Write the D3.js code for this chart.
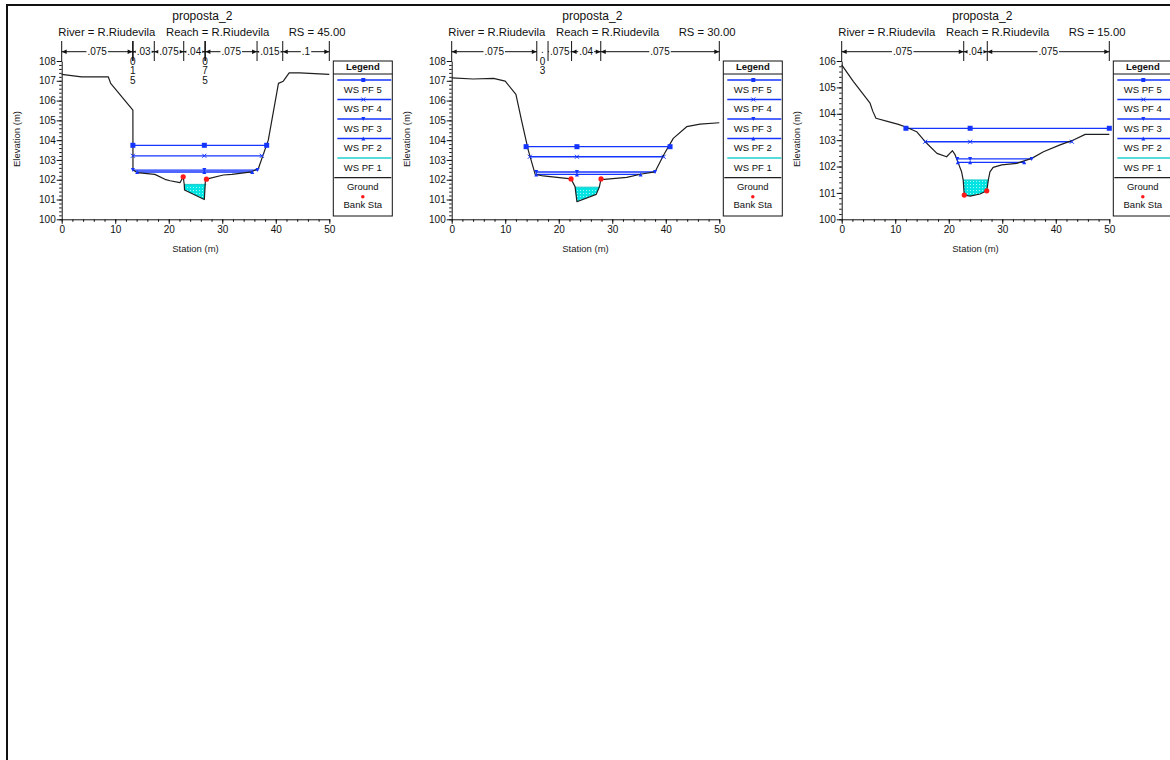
<!DOCTYPE html>
<html><head><meta charset="utf-8">
<script src="https://cdn.jsdelivr.net/npm/d3@7"></script>
<style>
body{margin:0;background:#fff;}
svg{display:block;font-family:"Liberation Sans",Arial,sans-serif;}
</style>
</head><body>
<svg id="chart" width="1170" height="760"></svg>
<script>
// ---------- text ----------
const titleText = "proposta_2";
const riverText = "River = R.Riudevila";
const reachText = "Reach = R.Riudevila";
const rsLabels = ["RS = 45.00", "RS = 30.00", "RS = 15.00"];
const profileNames = ["WS PF 5", "WS PF 4", "WS PF 3", "WS PF 2", "WS PF 1"];
const legendExtra = ["Ground", "Bank Sta"];
const xTicks = [0, 10, 20, 30, 40, 50];
const xLabel = "Station (m)";
const yLabel = "Elevation (m)";

// ---------- RS 45.00 ----------
const station45 = [0, 3.7, 8.7, 9.15, 13.3, 13.32, 14.1, 17.4, 19.3, 20.25, 22.1, 22.7, 22.9, 22.95, 26.65, 26.85, 27.05, 30.2, 31.8, 35.5, 36.75, 38.6, 40.5, 41.4, 42.5, 44.5, 50];
const elev45    = [107.32, 107.2, 107.2, 106.87, 105.52, 102.49, 102.36, 102.27, 102.02, 101.95, 101.85, 102.15, 101.76, 101.48, 101.0, 101.98, 102.03, 102.24, 102.27, 102.4, 102.57, 104.0, 106.87, 106.98, 107.4, 107.4, 107.32];
const bankSta45  = [22.7, 27.05];
const bankElev45 = [102.15, 102.03];
const wsElev45  = [103.74, 103.21, 102.49, 102.39, 101.76];
const wsLeft45  = [13.3, 13.3, 13.3, 14.1, 22.9];
const wsRight45 = [38.3, 37.4, 36.6, 35.6, 27.0];
const wsMid45 = 26.65;
const nBounds45 = [0, 13.25, 13.35, 17.3, 22.8, 26.75, 26.85, 36.5, 41.3, 50];
const nValues45 = [".075", ".015", ".03", ".075", ".04", ".075", ".075", ".015", ".1"];
const yTicks45 = [100, 101, 102, 103, 104, 105, 106, 107, 108];

// ---------- RS 30.00 ----------
const station30 = [0, 4.0, 7.8, 10, 12.0, 13.1, 14.3, 15.6, 17.1, 22.3, 23.05, 23.4, 27.0, 27.6, 27.9, 28.5, 32.7, 35.5, 38.0, 39.6, 41.4, 43.9, 46.4, 50];
const elev30    = [107.15, 107.09, 107.12, 106.98, 106.31, 104.93, 103.5, 102.27, 102.19, 102.04, 101.65, 100.89, 101.26, 101.65, 102.04, 102.02, 102.12, 102.29, 102.4, 103.25, 104.09, 104.68, 104.81, 104.88];
const bankSta30  = [22.3, 27.9];
const bankElev30 = [102.04, 102.04];
const wsElev30  = [103.67, 103.16, 102.39, 102.27, 101.62];
const wsLeft30  = [13.9, 14.6, 15.8, 15.8, 23.0];
const wsRight30 = [40.8, 39.6, 38.0, 35.3, 27.6];
const wsMid30 = 23.4;
const nBounds30 = [0, 15.9, 18.0, 22.4, 27.85, 50];
const nValues30 = [".075", ".03", ".075", ".04", ".075"];
const yTicks30 = [100, 101, 102, 103, 104, 105, 106, 107, 108];

// ---------- RS 15.00 ----------
const station15 = [0, 2.2, 5.3, 5.8, 6.4, 8.7, 10.6, 12.1, 14.0, 15.6, 17.8, 19.6, 20.2, 20.7, 21.2, 21.8, 22.4, 22.7, 22.9, 24.0, 25.85, 27.1, 27.4, 27.7, 28.3, 29.9, 32.7, 35.5, 37.7, 40.8, 43.0, 45.5, 50];
const elev15    = [105.85, 105.22, 104.4, 104.1, 103.83, 103.7, 103.6, 103.49, 103.32, 102.94, 102.5, 102.37, 102.5, 102.6, 102.44, 102.12, 101.8, 101.49, 100.92, 100.88, 100.96, 101.08, 101.49, 101.8, 101.97, 102.06, 102.12, 102.31, 102.56, 102.82, 102.98, 103.22, 103.22];
const bankSta15  = [22.9, 27.1];
const bankElev15 = [100.92, 101.08];
const wsElev15  = [103.45, 102.94, 102.29, 102.16, 101.49];
const wsLeft15  = [12.0, 15.6, 21.6, 21.7, 22.7];
const wsRight15 = [50.0, 43.0, 35.5, 34.1, 27.4];
const wsMid15 = 24.0;
const nBounds15 = [0, 22.8, 27.2, 50];
const nValues15 = [".075", ".04", ".075"];
const yTicks15 = [100, 101, 102, 103, 104, 105, 106];

// ---------- styles ----------
const blue = "#1434ff";
const cyan = "#1fcfcf";
const groundColor = "#1e1e1e";
const markerTypes = ["square", "x", "tdown", "tup", null];

const panels = [
  {ox: 0,   rs: rsLabels[0], st: station45, el: elev45, bs: bankSta45, be: bankElev45, wsE: wsElev45, wsL: wsLeft45, wsR: wsRight45, mid: wsMid45, nb: nBounds45, nv: nValues45, yt: yTicks45},
  {ox: 390, rs: rsLabels[1], st: station30, el: elev30, bs: bankSta30, be: bankElev30, wsE: wsElev30, wsL: wsLeft30, wsR: wsRight30, mid: wsMid30, nb: nBounds30, nv: nValues30, yt: yTicks30},
  {ox: 780, rs: rsLabels[2], st: station15, el: elev15, bs: bankSta15, be: bankElev15, wsE: wsElev15, wsL: wsLeft15, wsR: wsRight15, mid: wsMid15, nb: nBounds15, nv: nValues15, yt: yTicks15}
];

const svg = d3.select("#chart");

// pattern for PF1 fill
const defs = svg.append("defs");
const pat = defs.append("pattern").attr("id", "dots").attr("patternUnits", "userSpaceOnUse")
  .attr("width", 3).attr("height", 3);
pat.append("rect").attr("width", 3).attr("height", 3).attr("fill", "#00e4e4");
pat.append("rect").attr("x", 1).attr("y", 1).attr("width", 1).attr("height", 1).attr("fill", "#9ff6f6");

// page border
svg.append("line").attr("x1", 6).attr("x2", 1170).attr("y1", 5).attr("y2", 5).attr("stroke", "#111").attr("stroke-width", 2);
svg.append("line").attr("x1", 7).attr("x2", 7).attr("y1", 4).attr("y2", 760).attr("stroke", "#111").attr("stroke-width", 2);

function drawMarker(g, type, cx, cy, s, color) {
  if (!type) return;
  if (type === "square") {
    g.append("rect").attr("x", cx - s / 2).attr("y", cy - s / 2).attr("width", s).attr("height", s).attr("fill", color);
  } else if (type === "x") {
    const h = s / 2;
    g.append("path").attr("d", `M${cx-h},${cy-h}L${cx+h},${cy+h}M${cx-h},${cy+h}L${cx+h},${cy-h}`)
      .attr("stroke", color).attr("stroke-width", 1).attr("fill", "none");
  } else if (type === "tdown") {
    const h = s / 2;
    g.append("path").attr("d", `M${cx-h},${cy-h}L${cx+h},${cy-h}L${cx},${cy+h}Z`).attr("fill", color);
  } else if (type === "tup") {
    const h = s / 2;
    g.append("path").attr("d", `M${cx-h},${cy+h}L${cx+h},${cy+h}L${cx},${cy-h}Z`).attr("fill", color);
  }
}

function groundAt(st, el, s) {
  for (let i = 0; i < st.length - 1; i++) {
    if (s >= st[i] && s <= st[i + 1]) {
      const t = st[i + 1] === st[i] ? 0 : (s - st[i]) / (st[i + 1] - st[i]);
      return el[i] + t * (el[i + 1] - el[i]);
    }
  }
  return el[el.length - 1];
}

panels.forEach(p => {
  const g = svg.append("g");
  const x = d3.scaleLinear().domain([0, 50]).range([p.ox + 61.7, p.ox + 329.3]);
  const yMin = d3.min(p.yt), yMax = d3.max(p.yt);
  const y = d3.scaleLinear().domain([yMin, yMax]).range([219.3, 61]);

  // titles
  g.append("text").attr("x", p.ox + 202.3).attr("y", 19.8).attr("text-anchor", "middle")
    .attr("font-size", 12).attr("fill", "#111").text(titleText);
  g.append("text").attr("x", p.ox + 58.3).attr("y", 35.5).attr("font-size", 11.3).attr("fill", "#111").text(riverText);
  g.append("text").attr("x", p.ox + 166).attr("y", 35.5).attr("font-size", 11.3).attr("fill", "#111").text(reachText);
  g.append("text").attr("x", p.ox + 288.7).attr("y", 35.5).attr("font-size", 11.3).attr("fill", "#111").text(p.rs);

  // Manning's n bar
  const nY = 51.7;
  const ng = g.append("g");
  const bounds = p.nb;
  // vertical separator lines
  const uniqB = bounds;
  uniqB.forEach(b => {
    ng.append("line").attr("x1", x(b)).attr("x2", x(b)).attr("y1", 41).attr("y2", 61)
      .attr("stroke", "#111").attr("stroke-width", 1);
  });
  for (let i = 0; i < p.nv.length; i++) {
    const a = x(bounds[i]), b = x(bounds[i + 1]);
    const w = b - a;
    const cx = (a + b) / 2;
    if (w < 12) {
      // vertical stacked label
      const chars = p.nv[i].split("");
      const ys = [52.5, 64.5, 74, 83.5];
      chars.forEach((c, k) => {
        ng.append("text").attr("x", cx).attr("y", ys[k]).attr("text-anchor", "middle")
          .attr("font-size", 10).attr("fill", "#111").text(c);
      });
      continue;
    }
    ng.append("line").attr("x1", a).attr("x2", b).attr("y1", nY).attr("y2", nY).attr("stroke", "#111").attr("stroke-width", 1);
    ng.append("path").attr("d", `M${a},${nY}L${a+5},${nY-2.3}L${a+5},${nY+2.3}Z`).attr("fill", "#111");
    ng.append("path").attr("d", `M${b},${nY}L${b-5},${nY-2.3}L${b-5},${nY+2.3}Z`).attr("fill", "#111");
    const t = ng.append("text").attr("x", cx).attr("y", nY + 3.5).attr("text-anchor", "middle")
      .attr("font-size", 10).attr("fill", "#111").text(p.nv[i]);
    const tw = t.node().getComputedTextLength();
    ng.insert("rect", () => t.node()).attr("x", cx - tw / 2 - 1).attr("y", nY - 4).attr("width", tw + 2).attr("height", 8).attr("fill", "#fff");
  }

  // axes
  const minorY = d3.range(yMin, yMax + 0.001, 0.2);
  const minorX = d3.range(0, 50.001, 2);
  g.append("g").attr("transform", `translate(${x(0)},0)`)
    .call(d3.axisLeft(y).tickValues(minorY).tickSize(2.5).tickFormat("").tickSizeOuter(0))
    .call(s => s.select(".domain").remove())
    .call(s => s.selectAll("line").attr("stroke", "#111"));
  g.append("g").attr("transform", `translate(0,${y(yMin)})`)
    .call(d3.axisBottom(x).tickValues(minorX).tickSize(2.5).tickFormat("").tickSizeOuter(0))
    .call(s => s.select(".domain").remove())
    .call(s => s.selectAll("line").attr("stroke", "#111"));
  g.append("g").attr("transform", `translate(${x(0)},0)`)
    .call(d3.axisLeft(y).tickValues(p.yt).tickSize(5).tickPadding(1).tickSizeOuter(0).tickFormat(d3.format("d")))
    .call(s => s.select(".domain").attr("stroke", "#111"))
    .call(s => s.selectAll("line").attr("stroke", "#111"))
    .call(s => s.selectAll("text").attr("font-size", 10).attr("fill", "#111").attr("font-family", "Liberation Sans, Arial, sans-serif"));
  g.append("g").attr("transform", `translate(0,${y(yMin)})`)
    .call(d3.axisBottom(x).tickValues(xTicks).tickSize(4.5).tickPadding(2.5).tickSizeOuter(0).tickFormat(d3.format("d")))
    .call(s => s.select(".domain").attr("stroke", "#111"))
    .call(s => s.selectAll("line").attr("stroke", "#111"))
    .call(s => s.selectAll("text").attr("font-size", 10).attr("fill", "#111").attr("font-family", "Liberation Sans, Arial, sans-serif"));

  g.append("text").attr("x", p.ox + 195.5).attr("y", 251.5).attr("text-anchor", "middle")
    .attr("font-size", 9.5).attr("fill", "#222").text(xLabel);
  g.append("text").attr("transform", `translate(${p.ox + 19.5},139) rotate(-90)`).attr("text-anchor", "middle")
    .attr("font-size", 9.5).attr("fill", "#222").text(yLabel);

  // PF1 fill
  const L = p.wsL[4], R = p.wsR[4], ws1 = p.wsE[4];
  const pts = [[L, Math.min(groundAt(p.st, p.el, L), ws1)]];
  p.st.forEach((s, i) => { if (s > L && s < R) pts.push([s, Math.min(p.el[i], ws1)]); });
  pts.push([R, Math.min(groundAt(p.st, p.el, R), ws1)]);
  const area = d3.area().x(d => x(d[0])).y0(y(ws1)).y1(d => y(d[1]));
  g.append("path").datum(pts).attr("d", area).attr("fill", "url(#dots)");
  g.append("line").attr("x1", x(L)).attr("x2", x(R)).attr("y1", y(ws1)).attr("y2", y(ws1))
    .attr("stroke", cyan).attr("stroke-width", 1.2);

  // WS lines PF5..PF2
  for (let k = 0; k < 4; k++) {
    const yy = y(p.wsE[k]);
    g.append("line").attr("x1", x(p.wsL[k])).attr("x2", x(p.wsR[k])).attr("y1", yy).attr("y2", yy)
      .attr("stroke", blue).attr("stroke-width", 1.3);
  }

  // ground
  const line = d3.line().x((d, i) => x(p.st[i])).y(d => y(d));
  g.append("path").datum(p.el).attr("d", line).attr("fill", "none")
    .attr("stroke", groundColor).attr("stroke-width", 1.2).attr("stroke-linejoin", "round");

  // markers
  for (let k = 0; k < 4; k++) {
    const yy = y(p.wsE[k]);
    const sz = k === 0 ? 5 : 4;
    [p.wsL[k], p.mid, p.wsR[k]].forEach(s => drawMarker(g, markerTypes[k], x(s), yy, sz, blue));
  }

  // bank stations
  p.bs.forEach((s, i) => {
    g.append("circle").attr("cx", x(s)).attr("cy", y(p.be[i])).attr("r", 2.6).attr("fill", "#ff1a1a");
  });

  // legend
  const lx = p.ox + 333.3, ly = 61, lw = 59, lh = 155;
  const lg = g.append("g");
  lg.append("rect").attr("x", lx).attr("y", ly).attr("width", lw).attr("height", lh)
    .attr("fill", "#fff").attr("stroke", "#111").attr("stroke-width", 1);
  lg.append("text").attr("x", lx + lw / 2).attr("y", ly + 9).attr("text-anchor", "middle")
    .attr("font-size", 9.5).attr("font-weight", "bold").attr("fill", "#111").text("Legend");
  lg.append("line").attr("x1", lx).attr("x2", lx + lw).attr("y1", ly + 13).attr("y2", ly + 13).attr("stroke", "#111");
  profileNames.forEach((name, k) => {
    const yl = 80 + k * 19.5;
    lg.append("line").attr("x1", lx + 4).attr("x2", lx + lw - 1).attr("y1", yl).attr("y2", yl)
      .attr("stroke", k === 4 ? cyan : blue).attr("stroke-width", 1.3);
    drawMarker(lg, markerTypes[k], lx + 30, yl, 4, blue);
    lg.append("text").attr("x", lx + 29.5).attr("y", yl + 12.5).attr("text-anchor", "middle")
      .attr("font-size", 9.5).attr("fill", "#111").text(name);
  });
  lg.append("line").attr("x1", lx + 1).attr("x2", lx + lw - 1).attr("y1", 177.7).attr("y2", 177.7)
    .attr("stroke", groundColor).attr("stroke-width", 1.2);
  lg.append("text").attr("x", lx + 29.5).attr("y", 189.5).attr("text-anchor", "middle")
    .attr("font-size", 9.5).attr("fill", "#111").text(legendExtra[0]);
  lg.append("circle").attr("cx", lx + 29.5).attr("cy", 196.7).attr("r", 1.8).attr("fill", "#ff1a1a");
  lg.append("text").attr("x", lx + 29.5).attr("y", 207.8).attr("text-anchor", "middle")
    .attr("font-size", 9.5).attr("fill", "#111").text(legendExtra[1]);
});
</script>
</body></html>
